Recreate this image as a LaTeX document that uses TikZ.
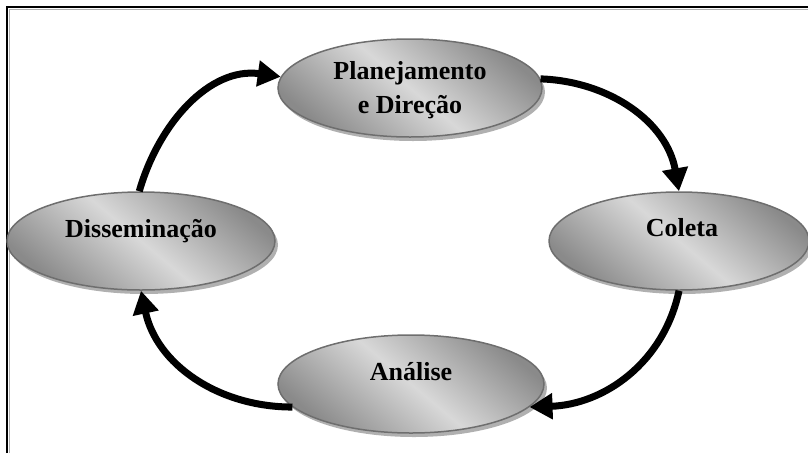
\documentclass[tikz,border=0pt]{standalone}
\usepackage{fontspec}
\usetikzlibrary{arrows.meta,shapes.geometric,shadows}
\newfontfamily\lblfont{Liberation Serif}

\definecolor{ovalDark}{HTML}{8A8A8A}
\definecolor{ovalLight}{HTML}{D8D8D8}
\definecolor{ovalEdge}{HTML}{6E6E6E}
\definecolor{ovalShadow}{HTML}{B0B0B0}

\begin{document}
\begin{tikzpicture}[x=1pt,y=1pt,
  oval/.style={ellipse, draw=ovalEdge, line width=1.5pt, inner sep=0pt,
    minimum height=98pt,
    top color=ovalDark, bottom color=ovalDark, middle color=ovalLight,
    shading angle=-40,
    drop shadow={shadow xshift=3pt, shadow yshift=-4pt, fill=ovalShadow, opacity=1}},
  lbl/.style={font=\lblfont\bfseries\fontsize{26}{34}\selectfont,
    align=center, inner sep=0pt},
  flow/.style={line width=7pt, -{Triangle[length=23pt,width=25pt]}}
]
\useasboundingbox (0,0) rectangle (808,-453);

% frame
\draw[ovalShadow, line width=1pt] (9,-453) -- (9,-9) -- (808,-9);
\draw[line width=2pt] (7,-453) -- (7,-7) -- (808,-7);

% the four stages of the cycle
\node[oval, minimum width=264pt] (plan) at (410,-88) {};
\node[oval, minimum width=268pt] (diss) at (141,-241) {};
\node[oval, minimum width=260pt] (cole) at (679,-241) {};
\node[oval, minimum width=266pt] (anal) at (411,-384) {};

\node[lbl] (planT) at (410,-90) {Planejamento\\e Direção};
\node[lbl, anchor=base] (dissT) at (141,-237) {Disseminação};
\node[lbl, anchor=base] (coleT) at (682,-236) {Coleta};
\node[lbl, anchor=base] (analT) at (411,-380) {Análise};

% cycle arrows
\draw[flow] (diss.92) to[out=74, in=172] (plan.175);
\draw[flow] (plan.4) to[out=-2, in=100] (cole.north);
\draw[flow] (cole.south) to[out=-102, in=2] (anal.-11);
\draw[flow] (anal.191) to[out=180, in=-78] (diss.south);
\end{tikzpicture}
\end{document}
